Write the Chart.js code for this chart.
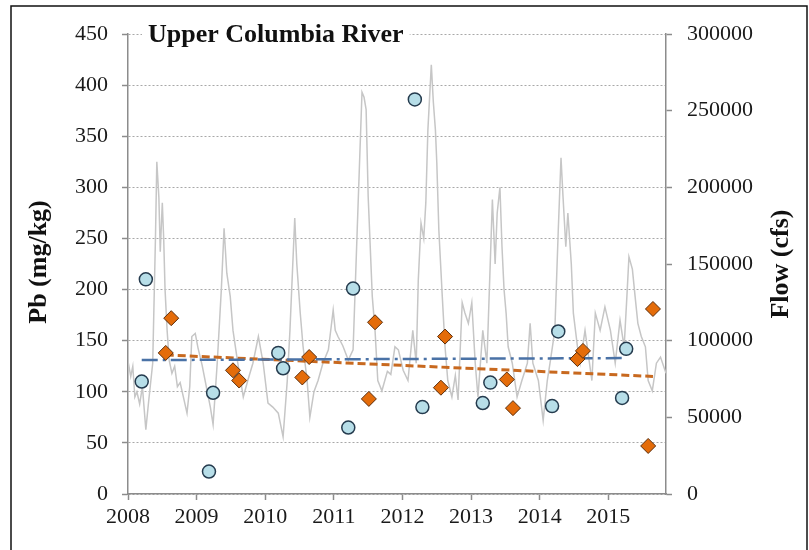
<!DOCTYPE html>
<html>
<head>
<meta charset="utf-8">
<script src="https://cdn.jsdelivr.net/npm/chart.js@4.4.1/dist/chart.umd.min.js"></script>
<style>
    html, body { margin: 0; padding: 0; background: #fff; }
    #wrap { width: 809px; height: 550px; }
</style>
</head>
<body>
<div id="wrap"><canvas id="graph" width="809" height="550"></canvas></div>
<script>
// daily river flow (cfs), traced as decimal years
const flowDates = [2008.00, 2008.04, 2008.07, 2008.10, 2008.13, 2008.17, 2008.21, 2008.26, 2008.30, 2008.36,
    2008.40, 2008.42, 2008.45, 2008.47, 2008.50, 2008.52, 2008.54, 2008.57, 2008.60, 2008.64,
    2008.68, 2008.72, 2008.76, 2008.80, 2008.86, 2008.90, 2008.93, 2008.98, 2009.02, 2009.08,
    2009.15, 2009.20, 2009.24, 2009.30, 2009.36, 2009.40, 2009.44, 2009.49, 2009.53, 2009.60,
    2009.68, 2009.75, 2009.82, 2009.90, 2009.97, 2010.04, 2010.11, 2010.19, 2010.26, 2010.32,
    2010.36, 2010.43, 2010.46, 2010.51, 2010.55, 2010.61, 2010.65, 2010.71, 2010.77, 2010.84,
    2010.92, 2010.99, 2011.02, 2011.06, 2011.13, 2011.21, 2011.28, 2011.34, 2011.41, 2011.44,
    2011.47, 2011.50, 2011.56, 2011.60, 2011.64, 2011.70, 2011.78, 2011.83, 2011.89, 2011.94,
    2012.01, 2012.08, 2012.15, 2012.20, 2012.23, 2012.27, 2012.31, 2012.34, 2012.37, 2012.42,
    2012.45, 2012.48, 2012.50, 2012.53, 2012.58, 2012.62, 2012.66, 2012.72, 2012.77, 2012.81,
    2012.87, 2012.91, 2012.96, 2013.01, 2013.06, 2013.10, 2013.17, 2013.23, 2013.31, 2013.35,
    2013.38, 2013.42, 2013.45, 2013.48, 2013.51, 2013.54, 2013.60, 2013.67, 2013.74, 2013.82,
    2013.86, 2013.90, 2013.98, 2014.05, 2014.11, 2014.15, 2014.22, 2014.27, 2014.31, 2014.34,
    2014.38, 2014.41, 2014.46, 2014.49, 2014.55, 2014.59, 2014.66, 2014.76, 2014.81, 2014.88,
    2014.95, 2015.03, 2015.10, 2015.17, 2015.23, 2015.27, 2015.30, 2015.35, 2015.39, 2015.43,
    2015.48, 2015.54, 2015.58, 2015.64, 2015.70, 2015.76, 2015.84];
const flowCfs = [86700, 76700, 83300, 63300, 66700, 58700, 70000, 42000, 60000, 85300,
    166700, 216700, 193300, 158000, 190000, 166700, 133300, 106700, 87300, 78700,
    83300, 70000, 72700, 64700, 52700, 70000, 102700, 104700, 95300, 84000,
    68000, 56700, 45300, 85300, 133300, 173300, 144000, 128700, 106700, 85300,
    63300, 74700, 85300, 102700, 85300, 59300, 56700, 52700, 37300, 73300,
    106700, 180000, 150000, 118000, 96700, 74000, 50000, 66700, 74000, 85300,
    94000, 120000, 106700, 102700, 96700, 87300, 94000, 172000, 262000, 258700,
    250700, 194000, 128700, 106700, 74000, 67300, 80000, 78000, 96000, 94000,
    80700, 74000, 106700, 85300, 139300, 176700, 166700, 190000, 237300, 280000,
    255300, 237300, 216000, 172000, 128700, 96000, 74000, 63300, 77300, 61300,
    124700, 118000, 111300, 124700, 85300, 63300, 106700, 85300, 192000, 150000,
    183300, 200000, 161300, 133300, 118000, 96000, 85300, 63300, 74000, 85300,
    111300, 85300, 74000, 48000, 74000, 85300, 106700, 172000, 219300, 193300,
    161300, 183300, 150000, 118000, 96000, 85300, 106700, 74000, 118000, 106700,
    122000, 106700, 85300, 113300, 96000, 128700, 154700, 146700, 128700, 111300,
    102700, 96000, 74000, 67300, 85300, 89300, 78700];

// Pb in sediment (mg/kg), spring samples
const springDates = [2008.20, 2008.26, 2009.18, 2009.24, 2010.19, 2010.26, 2011.21, 2011.28,
    2012.18, 2012.29, 2013.17, 2013.28, 2014.18, 2014.27, 2015.20, 2015.26];
const springPb = [110, 210, 22, 99, 138, 123, 65, 201, 386, 85, 89, 109, 86, 159, 94, 142];

// Pb in sediment (mg/kg), late summer samples
const summerDates = [2008.55, 2008.63, 2009.53, 2009.62, 2010.54, 2010.64, 2011.51, 2011.60,
    2012.56, 2012.62, 2013.52, 2013.61, 2014.55, 2014.63, 2015.58, 2015.65];
const summerPb = [138, 172, 121, 111, 114, 134, 93, 168, 104, 154, 112, 84, 132, 140, 47, 181];

// linear trend end points
const springTrendDates = [2008.20, 2015.26];
const springTrendPb = [131, 133];
const summerTrendDates = [2008.55, 2015.65];
const summerTrendPb = [136, 115];

const yearTicks = [2008, 2009, 2010, 2011, 2012, 2013, 2014, 2015];
const xStart = 2008;
const xEnd = 2015.84;

function pairs(xs, ys) {
    return xs.map((x, i) => ({ x: x, y: ys[i] }));
}

const serif = '"Liberation Serif", "Times New Roman", serif';
const axisGray = '#8c8c8c';
const tickFont = { family: serif, size: 22 };

const decorations = {
    id: 'decorations',
    beforeDatasetsDraw(chart) {
        const ctx = chart.ctx;
        ctx.save();
        ctx.font = 'bold 26px ' + serif;
        const title = 'Upper Columbia River';
        const w = ctx.measureText(title).width;
        ctx.fillStyle = '#fff';
        ctx.fillRect(142, 18, w + 12, 32);
        ctx.fillStyle = '#111';
        ctx.textBaseline = 'middle';
        ctx.fillText(title, 148, 35);
        ctx.restore();
    },
    afterDraw(chart) {
        const ctx = chart.ctx;
        ctx.save();
        ctx.font = 'bold 26px ' + serif;
        ctx.fillStyle = '#111';
        ctx.textAlign = 'center';
        ctx.textBaseline = 'middle';

        ctx.save();
        ctx.translate(39, 262);
        ctx.rotate(-Math.PI / 2);
        ctx.fillText('Pb (mg/kg)', 0, 0);
        ctx.restore();

        ctx.save();
        ctx.translate(781, 264);
        ctx.rotate(-Math.PI / 2);
        ctx.fillText('Flow (cfs)', 0, 0);
        ctx.restore();

        // outer frame
        ctx.strokeStyle = '#111';
        ctx.lineWidth = 1.5;
        ctx.strokeRect(11, 6, 796, 560);
        ctx.restore();
    }
};

const ctx = document.getElementById('graph').getContext('2d');
new Chart(ctx, {
    type: 'scatter',
    data: {
        datasets: [
            {
                type: 'line',
                data: pairs(flowDates, flowCfs),
                yAxisID: 'y1',
                borderColor: '#c6c6c6',
                borderWidth: 1.5,
                pointRadius: 0,
                tension: 0,
                order: 3
            },
            {
                type: 'line',
                data: pairs(springTrendDates, springTrendPb),
                yAxisID: 'y',
                borderColor: '#4a72a6',
                borderWidth: 2.5,
                borderDash: [16, 5, 3, 5],
                pointRadius: 0,
                order: 2
            },
            {
                type: 'line',
                data: pairs(summerTrendDates, summerTrendPb),
                yAxisID: 'y',
                borderColor: '#c8691f',
                borderWidth: 3,
                borderDash: [8, 4],
                pointRadius: 0,
                order: 2
            },
            {
                data: pairs(springDates, springPb),
                yAxisID: 'y',
                pointStyle: 'circle',
                pointRadius: 6.5,
                backgroundColor: '#b7dee8',
                borderColor: '#253b4e',
                borderWidth: 1.5,
                order: 1
            },
            {
                data: pairs(summerDates, summerPb),
                yAxisID: 'y',
                pointStyle: 'rectRot',
                pointRadius: 7.5,
                backgroundColor: '#e46c0a',
                borderColor: '#5a2d0c',
                borderWidth: 1,
                order: 1
            }
        ]
    },
    options: {
        responsive: false,
        maintainAspectRatio: false,
        animation: false,
        layout: { padding: { top: 34, left: 0, right: 0, bottom: 0 } },
        plugins: {
            legend: { display: false },
            tooltip: { enabled: false }
        },
        scales: {
            x: {
                type: 'linear',
                position: 'bottom',
                min: xStart,
                max: xEnd,
                afterBuildTicks: axis => { axis.ticks = yearTicks.map(v => ({ value: v })); },
                ticks: {
                    callback: v => String(v),
                    font: tickFont,
                    color: '#1a1a1a',
                    padding: 4,
                    maxRotation: 0,
                    autoSkip: false
                },
                grid: {
                    drawOnChartArea: false,
                    tickLength: 6,
                    tickColor: axisGray,
                    tickWidth: 1.5
                },
                border: { color: axisGray, width: 1.5 },
                afterFit: s => { s.height = 56; }
            },
            y: {
                position: 'left',
                min: 0,
                max: 450,
                ticks: {
                    stepSize: 50,
                    font: tickFont,
                    color: '#1a1a1a',
                    padding: 14
                },
                grid: {
                    color: '#a8a8a8',
                    lineWidth: 1,
                    tickLength: 6,
                    tickColor: axisGray,
                    tickWidth: 1.5,
                    tickBorderDash: []
                },
                border: { color: axisGray, width: 1.5, dash: [2, 2] },
                afterFit: s => { s.width = 128; }
            },
            y1: {
                position: 'right',
                min: 0,
                max: 300000,
                ticks: {
                    stepSize: 50000,
                    callback: v => String(v),
                    font: tickFont,
                    color: '#1a1a1a',
                    padding: 15
                },
                grid: {
                    drawOnChartArea: false,
                    tickLength: 6,
                    tickColor: axisGray,
                    tickWidth: 1.5
                },
                border: { color: axisGray, width: 1.5 },
                afterFit: s => { s.width = 143; }
            }
        }
    },
    plugins: [decorations]
});
</script>
</body>
</html>
